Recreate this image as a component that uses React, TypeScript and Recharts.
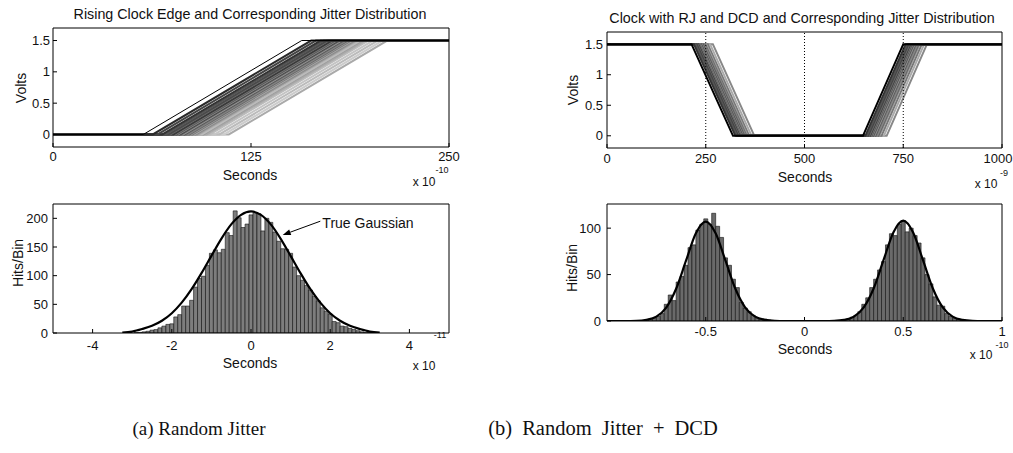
import React from 'react';
import { LineChart, Line, BarChart, Bar, XAxis, YAxis, ReferenceLine } from 'recharts';

// (a) rising clock edges: start of each ramp (x 1e-10 s) and ramp length
const edgeStarts = [57, 63, 66, 69, 71, 73, 74, 76, 77, 78, 79, 80, 81, 82, 83, 84, 85, 86, 87, 88, 89, 90, 91, 92, 94, 95, 97, 99, 102, 105, 108, 111];
const edgeRamp = 100;

// (a) jitter histogram (x 1e-11 s)
const rjBinCenters = [
  -3, -2.9, -2.8, -2.7, -2.6, -2.5, -2.4, -2.3, -2.2, -2.1,
  -2, -1.9, -1.8, -1.7, -1.6, -1.5, -1.4, -1.3, -1.2, -1.1,
  -1, -0.9, -0.8, -0.7, -0.6, -0.5, -0.4, -0.3, -0.2, -0.1,
  0, 0.1, 0.2, 0.3, 0.4, 0.5, 0.6, 0.7, 0.8, 0.9,
  1, 1.1, 1.2, 1.3, 1.4, 1.5, 1.6, 1.7, 1.8, 1.9,
  2, 2.1, 2.2, 2.3, 2.4, 2.5, 2.6, 2.7, 2.8, 2.9, 3,
];
const rjHits = [
  0, 1, 1, 2, 3, 5, 6, 9, 12, 15,
  16, 28, 32, 47, 47, 57, 80, 95, 99, 118,
  139, 145, 140, 146, 175, 170, 213, 201, 184, 190,
  206, 210, 208, 178, 200, 193, 176, 160, 147, 146,
  139, 115, 100, 92, 83, 75, 64, 56, 44, 38,
  33, 20, 18, 12, 11, 8, 6, 4, 2, 1, 1,
];
const rjFitX = [-3.25, -3, -2.75, -2.5, -2.25, -2, -1.75, -1.5, -1.25, -1, -0.75, -0.5, -0.25, 0, 0.25, 0.5, 0.75, 1, 1.25, 1.5, 1.75, 2, 2.25, 2.5, 2.75, 3, 3.25];
const rjFitY = [0.5, 2.5, 6.9, 12.5, 21.3, 34.5, 52.9, 76.4, 104.4, 134.6, 164.3, 189.4, 206.1, 212, 206.1, 189.4, 164.3, 134.6, 104.4, 76.4, 52.9, 34.5, 21.3, 12.5, 6.9, 2.5, 0.5];

// (b) clock with RJ + DCD (x 1e-9 s): falling / rising edge starts
const fallStarts = [214, 220, 224, 227, 229, 231, 233, 234, 236, 237, 239, 240, 242, 244, 246, 248, 251, 255, 261, 268];
const riseStarts = [648, 654, 658, 661, 664, 666, 668, 670, 672, 673, 675, 677, 679, 681, 684, 687, 690, 695, 701, 708];
const fallTime = 105;
const riseTime = 102;

// (b) jitter histogram (x 1e-10 s)
const dcdBinCenters = [
  -0.82, -0.8, -0.78, -0.76, -0.74, -0.72, -0.7, -0.68, -0.66, -0.64, -0.62, -0.6, -0.58, -0.56, -0.54, -0.52, -0.5,
  -0.48, -0.46, -0.44, -0.42, -0.4, -0.38, -0.36, -0.34, -0.32, -0.3, -0.28, -0.26, -0.24, -0.22, -0.2, -0.18,
  0.18, 0.2, 0.22, 0.24, 0.26, 0.28, 0.3, 0.32, 0.34, 0.36, 0.38, 0.4, 0.42, 0.44, 0.46, 0.48, 0.5,
  0.52, 0.54, 0.56, 0.58, 0.6, 0.62, 0.64, 0.66, 0.68, 0.7, 0.72, 0.74, 0.76, 0.78, 0.8, 0.82,
];
const dcdHits = [
  0, 1, 2, 3, 5, 8, 18, 28, 22, 42, 48, 60, 79, 82, 98, 104, 110,
  104, 116, 102, 90, 68, 60, 45, 36, 20, 14, 10, 6, 3, 2, 2, 1,
  0, 1, 2, 4, 6, 10, 18, 25, 36, 45, 55, 64, 82, 94, 92, 104, 108,
  96, 100, 92, 84, 68, 50, 40, 26, 17, 16, 8, 5, 3, 2, 1, 0,
];
const dcdFitX = [
  -1, -0.95, -0.9, -0.85, -0.8, -0.75, -0.7, -0.65, -0.6, -0.55, -0.5, -0.45, -0.4, -0.35, -0.3, -0.25, -0.2, -0.15, -0.1, -0.05,
  0, 0.05, 0.1, 0.15, 0.2, 0.25, 0.3, 0.35, 0.4, 0.45, 0.5, 0.55, 0.6, 0.65, 0.7, 0.75, 0.8, 0.85, 0.9, 0.95, 1,
];
const dcdFitY = [
  0, 0, 0, 0.1, 1.2, 4.7, 14.5, 34.7, 64.9, 94.4, 107, 94.4, 64.9, 34.7, 14.5, 4.7, 1.2, 0.2, 0, 0,
  0, 0, 0, 0.2, 1.2, 4.7, 14.6, 35, 65.5, 95.3, 108, 95.3, 65.5, 35, 14.6, 4.7, 1.2, 0.2, 0, 0, 0,
];

// trace greys, in the same order as the start lists
const edgeShades = ['#000', '#2a2a2a', '#444', '#333', '#555', '#4a4a4a', '#666', '#3a3a3a', '#777', '#555', '#888', '#444', '#666', '#999', '#555', '#777', '#888', '#666', '#999', '#777', '#aaa', '#888', '#999', '#aaa', '#bbb', '#999', '#aaa', '#bbb', '#c4c4c4', '#bbb', '#ccc', '#aaa'];
const dcdShades = ['#000', '#333', '#555', '#444', '#666', '#3c3c3c', '#777', '#555', '#888', '#444', '#666', '#999', '#555', '#777', '#888', '#666', '#999', '#777', '#aaa', '#888'];

const rjData = rjBinCenters.map((x, i) => ({ x, n: rjHits[i] }));
const rjFit = rjFitX.map((x, i) => ({ x, y: rjFitY[i] }));
const dcdData = dcdBinCenters.map((x, i) => ({ x, n: dcdHits[i] }));
const dcdFit = dcdFitX.map((x, i) => ({ x, y: dcdFitY[i] }));

const FONT = '"Liberation Sans", Arial, sans-serif';
const SERIF = '"Liberation Serif", "Times New Roman", serif';
// M: plot offsets with hidden axes; MF: same plot box when the 1px frame axes are present
const M = { top: 6, right: 22, bottom: 28, left: 42 };
const MF = { top: 5, right: 21, bottom: 27, left: 41 };

// plot boxes in page pixels
const boxTL = { x: 53, y: 28, w: 396, h: 119 };
const boxBL = { x: 53, y: 204, w: 396, h: 129 };
const boxTR = { x: 607, y: 32, w: 395, h: 116 };
const boxBR = { x: 607, y: 204, w: 395, h: 117 };

const tickStyle = { fill: '#111', fontSize: 13, fontFamily: FONT };

// bottom tick label; the last label is nudged left so it stays on the page
const makeXTick = (nudgeValue?: number) => (p: any) => {
  const shift = p.payload.value === nudgeValue ? -4 : 0;
  return (
    <text x={p.x + shift} y={p.y} dy="0.71em" textAnchor="middle" fill="#111" fontSize={13} fontFamily={FONT}>
      {p.payload.value}
    </text>
  );
};

function frameAxes(xKey: string, xDomain: number[], xTicks: number[], yDomain: number[], yTicks: number[], xm: number, ym: number, nudge?: number) {
  return [
    <XAxis key="xb" type="number" dataKey={xKey} domain={xDomain} ticks={xTicks} interval={0} allowDataOverflow height={1} tickSize={-4} tickMargin={xm} stroke="#000" tick={makeXTick(nudge)} />,
    <XAxis key="xt" xAxisId="top" orientation="top" type="number" domain={xDomain} ticks={xTicks} interval={0} allowDataOverflow height={1} tickSize={-4} tick={false} stroke="#000" />,
    <YAxis key="yl" type="number" domain={yDomain} ticks={yTicks} interval={0} allowDataOverflow width={1} tickSize={-4} tickMargin={ym} stroke="#000" tick={tickStyle} />,
    <YAxis key="yr" yAxisId="right" orientation="right" type="number" domain={yDomain} ticks={yTicks} interval={0} allowDataOverflow width={1} tickSize={-4} tick={false} stroke="#000" />,
  ];
}

const Panel = ({ box, children }: any) => (
  <div style={{ position: 'absolute', left: box.x - M.left, top: box.y - M.top }}>{children}</div>
);
const cw = (box: any) => box.w + M.left + M.right;
const ch = (box: any) => box.h + M.top + M.bottom;

const Txt = ({ x, y, size = 14, rotate = 0, family = FONT, spacing = 0, children }: any) => (
  <div
    style={{
      position: 'absolute', left: x, top: y, transform: `translate(-50%, -50%) rotate(${rotate}deg)`,
      fontSize: size, fontFamily: family, lineHeight: 1, whiteSpace: 'pre', color: '#111', wordSpacing: spacing,
    }}
  >
    {children}
  </div>
);

const Arrow = (p: any) => {
  const { x1, y1, x2, y2 } = p;
  const a = Math.atan2(y2 - y1, x2 - x1);
  const bx = x2 - 8 * Math.cos(a);
  const by = y2 - 8 * Math.sin(a);
  const s = Math.sin(a) * 3;
  const c = Math.cos(a) * 3;
  return (
    <g>
      <line x1={x1} y1={y1} x2={bx} y2={by} stroke="#000" strokeWidth={1} />
      <polygon points={`${x2},${y2} ${bx + s},${by - c} ${bx - s},${by + c}`} fill="#000" />
    </g>
  );
};

export default function App() {
  const edgeOrder = edgeStarts.map((s, i) => i).reverse();
  const dcdOrder = fallStarts.map((s, i) => i).reverse();

  return (
    <div style={{ position: 'absolute', left: 0, top: 0, width: 1013, height: 453, background: '#fff', overflow: 'hidden' }}>
      {/* (a) top: rising edges */}
      <Panel box={boxTL}>
        <LineChart width={cw(boxTL)} height={ch(boxTL)} margin={MF}>
          {frameAxes('t', [0, 250], [0, 125, 250], [-0.2, 1.7], [0, 0.5, 1, 1.5], 9, 7)}
          {edgeOrder.map((i) => (
            <Line
              key={i}
              data={[{ t: 0, v: 0 }, { t: edgeStarts[i], v: 0 }, { t: edgeStarts[i] + edgeRamp, v: 1.5 }, { t: 250, v: 1.5 }]}
              dataKey="v"
              type="linear"
              stroke={edgeShades[i]}
              strokeWidth={i === 0 ? 1 : 2}
              dot={false}
              isAnimationActive={false}
            />
          ))}
        </LineChart>
      </Panel>

      {/* (a) bottom: histogram */}
      <Panel box={boxBL}>
        <BarChart width={cw(boxBL)} height={ch(boxBL)} data={rjData} margin={MF} barCategoryGap={0} barGap={0}>
          {frameAxes('x', [-5, 5], [-4, -2, 0, 2, 4], [0, 225], [0, 50, 100, 150, 200], 12, 9)}
          <Bar dataKey="n" fill="#7d7d7d" stroke="#111" strokeWidth={0.6} isAnimationActive={false} />
        </BarChart>
      </Panel>
      <Panel box={boxBL}>
        <LineChart width={cw(boxBL)} height={ch(boxBL)} data={rjFit} margin={M}>
          <XAxis hide type="number" dataKey="x" domain={[-5, 5]} allowDataOverflow />
          <YAxis hide type="number" domain={[0, 225]} allowDataOverflow />
          <Line dataKey="y" type="monotone" stroke="#000" strokeWidth={2.2} dot={false} isAnimationActive={false} />
          <ReferenceLine segment={[{ x: 1.75, y: 195 }, { x: 0.8, y: 171 }]} shape={Arrow} />
        </LineChart>
      </Panel>

      {/* (b) top: clock with RJ + DCD */}
      <Panel box={boxTR}>
        <LineChart width={cw(boxTR)} height={ch(boxTR)} margin={MF}>
          {frameAxes('t', [0, 1000], [0, 250, 500, 750, 1000], [-0.2, 1.7], [0, 0.5, 1, 1.5], 10, 8, 1000)}
          {dcdOrder.map((i) => (
            <Line
              key={i}
              data={[
                { t: 0, v: 1.5 },
                { t: fallStarts[i], v: 1.5 },
                { t: fallStarts[i] + fallTime, v: 0 },
                { t: riseStarts[i], v: 0 },
                { t: riseStarts[i] + riseTime, v: 1.5 },
                { t: 1000, v: 1.5 },
              ]}
              dataKey="v"
              type="linear"
              stroke={dcdShades[i]}
              strokeWidth={2}
              dot={false}
              isAnimationActive={false}
            />
          ))}
          <ReferenceLine x={250} stroke="#000" strokeWidth={1} strokeDasharray="1 2" />
          <ReferenceLine x={500} stroke="#000" strokeWidth={1} strokeDasharray="1 2" />
          <ReferenceLine x={750} stroke="#000" strokeWidth={1} strokeDasharray="1 2" />
        </LineChart>
      </Panel>

      {/* (b) bottom: dual-dirac histogram */}
      <Panel box={boxBR}>
        <BarChart width={cw(boxBR)} height={ch(boxBR)} data={dcdData} margin={MF} barCategoryGap={0} barGap={0}>
          {frameAxes('x', [-1, 1], [-0.5, 0, 0.5, 1], [0, 126], [0, 50, 100], 10, 10)}
          <Bar dataKey="n" fill="#6a6a6a" stroke="#111" strokeWidth={0.6} isAnimationActive={false} />
        </BarChart>
      </Panel>
      <Panel box={boxBR}>
        <LineChart width={cw(boxBR)} height={ch(boxBR)} data={dcdFit} margin={M}>
          <XAxis hide type="number" dataKey="x" domain={[-1, 1]} allowDataOverflow />
          <YAxis hide type="number" domain={[0, 126]} allowDataOverflow />
          <Line dataKey="y" type="monotone" stroke="#000" strokeWidth={2.2} dot={false} isAnimationActive={false} />
        </LineChart>
      </Panel>

      {/* titles and labels */}
      <Txt x={250} y={14} size={14.3}>Rising Clock Edge and Corresponding Jitter Distribution</Txt>
      <Txt x={802} y={18} size={14.3}>Clock with RJ and DCD and Corresponding Jitter Distribution</Txt>

      <Txt x={21} y={88} rotate={-90}>Volts</Txt>
      <Txt x={573} y={90} rotate={-90}>Volts</Txt>
      <Txt x={18} y={263} rotate={-90}>Hits/Bin</Txt>
      <Txt x={572} y={268} rotate={-90}>Hits/Bin</Txt>

      <Txt x={250} y={175}>Seconds</Txt>
      <Txt x={805} y={177}>Seconds</Txt>
      <Txt x={250} y={363}>Seconds</Txt>
      <Txt x={805} y={349}>Seconds</Txt>

      <Txt x={424} y={182} size={12}>x 10</Txt>
      <Txt x={442} y={170} size={9}>-10</Txt>
      <Txt x={986} y={184} size={12}>x 10</Txt>
      <Txt x={1004} y={173} size={9}>-9</Txt>
      <Txt x={424} y={366} size={12}>x 10</Txt>
      <Txt x={440} y={335} size={9}>-11</Txt>
      <Txt x={981} y={355} size={12}>x 10</Txt>
      <Txt x={1002} y={345} size={9}>-10</Txt>

      <Txt x={368} y={223} size={14}>True Gaussian</Txt>

      {/* sub-figure captions */}
      <Txt x={199} y={428} size={19} family={SERIF}>(a) Random Jitter</Txt>
      <Txt x={603} y={428} size={20.5} spacing={5} family={SERIF}>(b) Random Jitter + DCD</Txt>
    </div>
  );
}
